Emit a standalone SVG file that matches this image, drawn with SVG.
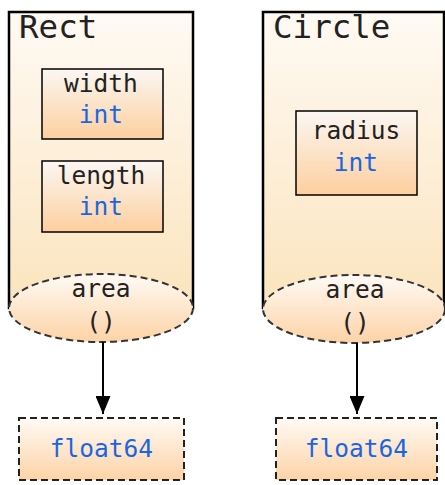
<svg xmlns="http://www.w3.org/2000/svg" width="445" height="485" viewBox="0 0 445 485">
<defs>
<linearGradient id="gCont" x1="0" y1="0" x2="0" y2="1">
<stop offset="0" stop-color="#fffaf4"/>
<stop offset="1" stop-color="#fbe4bd"/>
</linearGradient>
<linearGradient id="gBox" x1="0" y1="0" x2="0" y2="1">
<stop offset="0" stop-color="#fbf7f3"/>
<stop offset="1" stop-color="#fdcf9e"/>
</linearGradient>
<linearGradient id="gOut" x1="0" y1="0" x2="0" y2="1">
<stop offset="0" stop-color="#fffaf5"/>
<stop offset="1" stop-color="#fdd3a6"/>
</linearGradient>
<marker id="arr" viewBox="0 0 18 15" refX="18" refY="7.5" markerWidth="18" markerHeight="15" markerUnits="userSpaceOnUse" orient="auto">
<path d="M0,0 L18,7.5 L0,15 z" fill="#000"/>
</marker>
</defs>
<style>
.cont{fill:url(#gCont);stroke:#000;stroke-width:2.5}
.box{fill:url(#gBox);stroke:#000;stroke-width:1.5}
.meth{fill:url(#gOut);stroke:#333;stroke-width:2;stroke-dasharray:7 4}
.out{fill:url(#gOut);stroke:#222;stroke-width:2;stroke-dasharray:7 4}
text{font-family:"DejaVu Sans Mono","Liberation Mono",monospace;fill:#222}
.title{font-size:32.5px}
.lbl{font-size:24.5px;text-anchor:middle}
.typ{fill:#1a66e0}
.conn{stroke:#000;stroke-width:2;fill:none}
</style>
<g id="rect">
<rect class="cont" x="9" y="12" width="184" height="296"/>
<text class="title" x="19" y="38">Rect</text>
</g>
<g id="rect-width">
<rect class="box" x="42" y="69" width="121" height="70"/>
<text class="lbl" x="101" y="92">width</text>
<text class="lbl typ" x="101" y="123">int</text>
</g>
<g id="rect-length">
<rect class="box" x="42" y="161" width="121" height="71"/>
<text class="lbl" x="101" y="184">length</text>
<text class="lbl typ" x="101" y="215">int</text>
</g>
<g id="rect-area">
<ellipse class="meth" cx="101" cy="308" rx="92" ry="34"/>
<text class="lbl" x="101" y="297">area</text>
<text class="lbl" x="101" y="330">()</text>
</g>
<g id="circle">
<rect class="cont" x="263" y="12" width="181" height="296"/>
<text class="title" x="273" y="38">Circle</text>
</g>
<g id="circle-radius">
<rect class="box" x="296" y="111" width="121" height="84"/>
<text class="lbl" x="356" y="139">radius</text>
<text class="lbl typ" x="356" y="171">int</text>
</g>
<g id="circle-area">
<ellipse class="meth" cx="354" cy="309" rx="91" ry="34"/>
<text class="lbl" x="355" y="298">area</text>
<text class="lbl" x="355" y="331">()</text>
</g>
<g id="rect-out">
<rect class="out" x="19" y="418" width="165" height="62"/>
<text class="lbl typ" x="101.5" y="457">float64</text>
</g>
<g id="circle-out">
<rect class="out" x="276" y="418" width="161" height="62"/>
<text class="lbl typ" x="356.5" y="457">float64</text>
</g>
<g id="connectors">
<line class="conn" x1="103" y1="342" x2="103" y2="414" marker-end="url(#arr)"/>
<line class="conn" x1="357" y1="343" x2="357" y2="414" marker-end="url(#arr)"/>
</g>
</svg>
